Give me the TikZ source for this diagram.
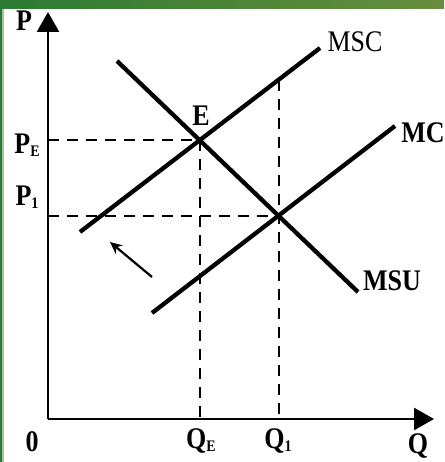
\documentclass[tikz,border=0pt]{standalone}
\usepackage{fontspec}
\setmainfont{Liberation Serif}
\usetikzlibrary{arrows.meta}
\definecolor{gdark}{RGB}{44,122,50}
\definecolor{golive}{RGB}{104,142,62}
\newcommand\lab[1]{\scalebox{1}[1.15]{#1}}
\newcommand\subx[1]{\raisebox{-0.25ex}{\fontsize{14}{14}\selectfont #1}}
\tikzset{
  curve/.style={line width=4.3pt},
  axis/.style={line width=2.6pt,-{Triangle[length=20pt,width=22pt]}},
  guide/.style={line width=2.4pt,dash pattern=on 11pt off 8pt},
  lbl/.style={inner sep=0pt,font=\fontsize{26}{26}\selectfont\bfseries},
  lblr/.style={inner sep=0pt,font=\fontsize{26}{26}\selectfont},
}
\begin{document}
\begin{tikzpicture}[x=1pt,y=-1pt]
\useasboundingbox (0,0) rectangle (444,462);
\fill[white] (0,0) rectangle (444,462);
\shade[left color=gdark,right color=golive] (0,0) rectangle (444,9);
\fill[gdark] (0,9) rectangle (2,462);
\fill[gdark!45] (2,9) rectangle (3.5,462);
% coordinates
\coordinate (O) at (48,419);
\coordinate (Ytop) at (48,12);
\coordinate (Xend) at (434,419);
\coordinate (msc1) at (80,232);
\coordinate (msc2) at (320,48);
\coordinate (mc1) at (152,313);
\coordinate (mc2) at (395,126);
\coordinate (msu1) at (117,61);
\coordinate (msu2) at (358,292);
\coordinate (E) at (199.7,140.2);
\coordinate (F) at (278.7,216);
\coordinate (G) at (278.7,79.7);
\coordinate (s1) at (152,277);
\coordinate (s2) at (110,242);
% guides
\draw[guide] (E -| O) -- (E);
\draw[guide] (F -| O) -- (F);
\draw[guide] (E) -- (E |- O);
\draw[guide] (G) -- (G |- O);
% axes
\draw[axis] (O) -- (Ytop);
\draw[axis] (O) -- (Xend);
% curves
\draw[curve] (msc1) -- (msc2);
\draw[curve] (mc1) -- (mc2);
\draw[curve] (msu1) -- (msu2);
\draw[line width=2.2pt,-{Stealth[length=12pt,width=11pt]}] (s1) -- (s2);
% labels
\node[lbl] (lP) at (24,21) {\lab{P}};
\node[lbl] (lPE) at (27,145) {\lab{P\subx{E}}};
\node[lbl] (lP1) at (27,197) {\lab{P\subx{1}}};
\node[lbl] (lE) at (201,116) {\lab{E}};
\node[lblr] (lMSC) at (355,42) {\lab{MSC}};
\node[lbl] (lMC) at (423,133) {\lab{MC}};
\node[lbl] (lMSU) at (392,281) {\lab{MSU}};
\node[lbl] (l0) at (32,442) {\lab{0}};
\node[lbl] (lQE) at (201,441) {\lab{Q\subx{E}}};
\node[lbl] (lQ1) at (278,441) {\lab{Q\subx{1}}};
\node[lbl] (lQ) at (418,446) {\lab{Q}};
\end{tikzpicture}
\end{document}
